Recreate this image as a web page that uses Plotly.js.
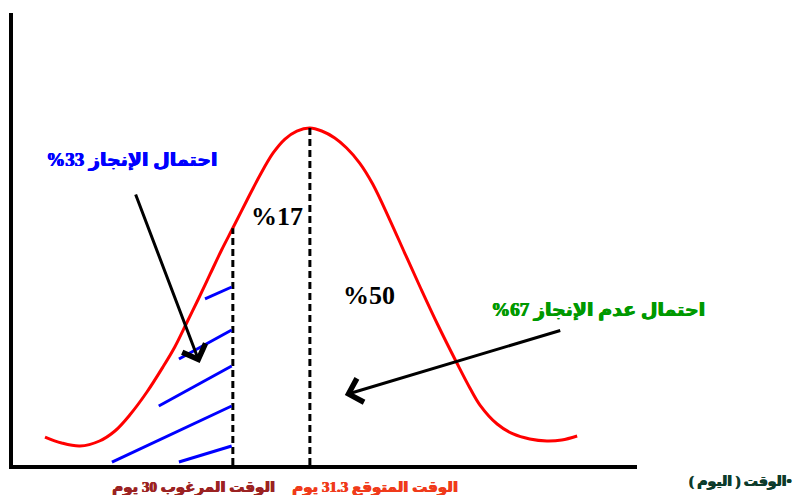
<!DOCTYPE html>
<html>
<head>
<meta charset="utf-8">
<script src="https://cdn.plot.ly/plotly-3.0.1.min.js"></script>
<style>html,body{margin:0;padding:0;background:#fff;}</style>
</head>
<body>
<div id="chart" style="width:793px;height:495px;"></div>
<script>
// Schematic completion-time distribution (x in days, y in relative density units)
const curveDays = [26.83, 27.11, 27.42, 27.75, 28.01, 28.26, 28.55, 28.82, 29.02, 29.22, 29.41, 29.61, 29.81, 30.00, 30.24, 30.46, 30.68, 30.88, 31.08, 31.30,
                   31.50, 31.72, 31.92, 32.14, 32.36, 32.65, 32.90, 33.16, 33.46, 33.78, 34.00, 34.17, 34.46, 34.73, 35.01, 35.30, 35.55, 35.81];
const curveDensity = [6.19, 4.87, 4.20, 5.31, 7.52, 11.06, 16.15, 21.68, 26.11, 31.42, 36.50, 42.04, 47.57, 52.43, 58.63, 64.16, 69.03, 72.12, 73.89, 74.56,
                      73.89, 72.35, 70.13, 66.81, 62.17, 54.20, 46.90, 39.38, 30.97, 22.57, 17.04, 13.27, 9.07, 6.86, 5.75, 5.31, 5.53, 6.42];

const desiredDay = 30;
const desiredHeight = 52.4;
const expectedDay = 31.3;
const expectedHeight = 74.56;

// hatching segments in the shaded (completion) area
const hatchX = [29.53, 29.98, null, 29.09, 29.98, null, 28.75, 29.98, null, 27.96, 29.98, null, 29.09, 29.98];
const hatchY = [36.73, 39.38, null, 23.45, 29.87, null, 13.05, 21.90, null, 0.66, 13.05, null, 0.66, 4.20];

// labels
const labelDone = "%33 احتمال الإنجاز";
const labelNotDone = "%67 احتمال عدم الإنجاز";
const labelPart = "%17";
const labelHalf = "%50";
const labelDesired = "الوقت المرغوب 30 يوم";
const labelExpected = "الوقت المتوقع 31.3 يوم";
const labelAxis = "الوقت ( اليوم )•";

// arrows: [tailX, tailY, headX, headY]
const arrowDone = [28.35, 60.18, 29.44, 22.57];
const arrowNotDone = [35.55, 29.87, 31.89, 15.49];

const traces = [
  {x: curveDays, y: curveDensity, mode: 'lines', line: {color: '#ff0000', width: 3, shape: 'spline', smoothing: 1}, hoverinfo: 'skip'},
  {x: [desiredDay, desiredDay], y: [0, desiredHeight], mode: 'lines', line: {color: '#000', width: 3, dash: '7px,4px'}, hoverinfo: 'skip'},
  {x: [expectedDay, expectedDay], y: [0, expectedHeight], mode: 'lines', line: {color: '#000', width: 3, dash: '7px,4px'}, hoverinfo: 'skip'},
  {x: hatchX, y: hatchY, mode: 'lines', line: {color: '#0000ff', width: 3}, connectgaps: false, hoverinfo: 'skip'}
];

const arFont = "'Liberation Serif', 'DejaVu Sans', serif";

function label(x, y, ref, text, size, color, family, heavy) {
  const font = {family: family || arFont, size: size, color: color};
  if (heavy) font.shadow = '0.7px 0 0 ' + color + ', -0.3px 0 0 ' + color;
  return {x: x, y: y, xref: ref === 'paper' ? 'paper' : 'x', yref: ref === 'paper' ? 'paper' : 'y',
          xanchor: 'center', yanchor: 'middle', showarrow: false, text: '<b>' + text + '</b>', font: font};
}

const layout = {
  width: 793, height: 495,
  margin: {l: 13, r: 156, t: 13, b: 30},
  paper_bgcolor: '#fff', plot_bgcolor: '#fff',
  showlegend: false,
  xaxis: {range: [26.29, 36.82], showgrid: false, zeroline: false, showticklabels: false, ticks: '',
          showline: true, linecolor: '#000', linewidth: 4},
  yaxis: {range: [0, 100], showgrid: false, zeroline: false, showticklabels: false, ticks: '',
          showline: true, linecolor: '#000', linewidth: 4},
  annotations: [
    {x: arrowDone[2], y: arrowDone[3], ax: arrowDone[0], ay: arrowDone[1], axref: 'x', ayref: 'y', xref: 'x', yref: 'y',
     showarrow: true, arrowhead: 4, arrowsize: 1.6, arrowwidth: 3, arrowcolor: '#000', text: ''},
    {x: arrowNotDone[2], y: arrowNotDone[3], ax: arrowNotDone[0], ay: arrowNotDone[1], axref: 'x', ayref: 'y', xref: 'x', yref: 'y',
     showarrow: true, arrowhead: 4, arrowsize: 1.6, arrowwidth: 3, arrowcolor: '#000', text: ''},
    label(28.29, 67.48, 'x', labelDone, 19, '#0000ff', null, true),
    label(36.16, 34.29, 'x', labelNotDone, 19, '#009900', null, true),
    label(30.74, 54.87, 'x', labelPart, 26, '#000', "'Liberation Serif', serif"),
    label(32.30, 37.61, 'x', labelHalf, 26, '#000', "'Liberation Serif', serif"),
    label(0.290, -0.0487, 'paper', labelDesired, 15, '#9b2222', null, true),
    label(0.580, -0.0487, 'paper', labelExpected, 15, '#f03a1a', null, true),
    label(1.165, -0.0376, 'paper', labelAxis, 14, '#0d3b2b', null, true)
  ]
};

Plotly.newPlot('chart', traces, layout, {staticPlot: true, displayModeBar: false});
</script>
</body>
</html>
